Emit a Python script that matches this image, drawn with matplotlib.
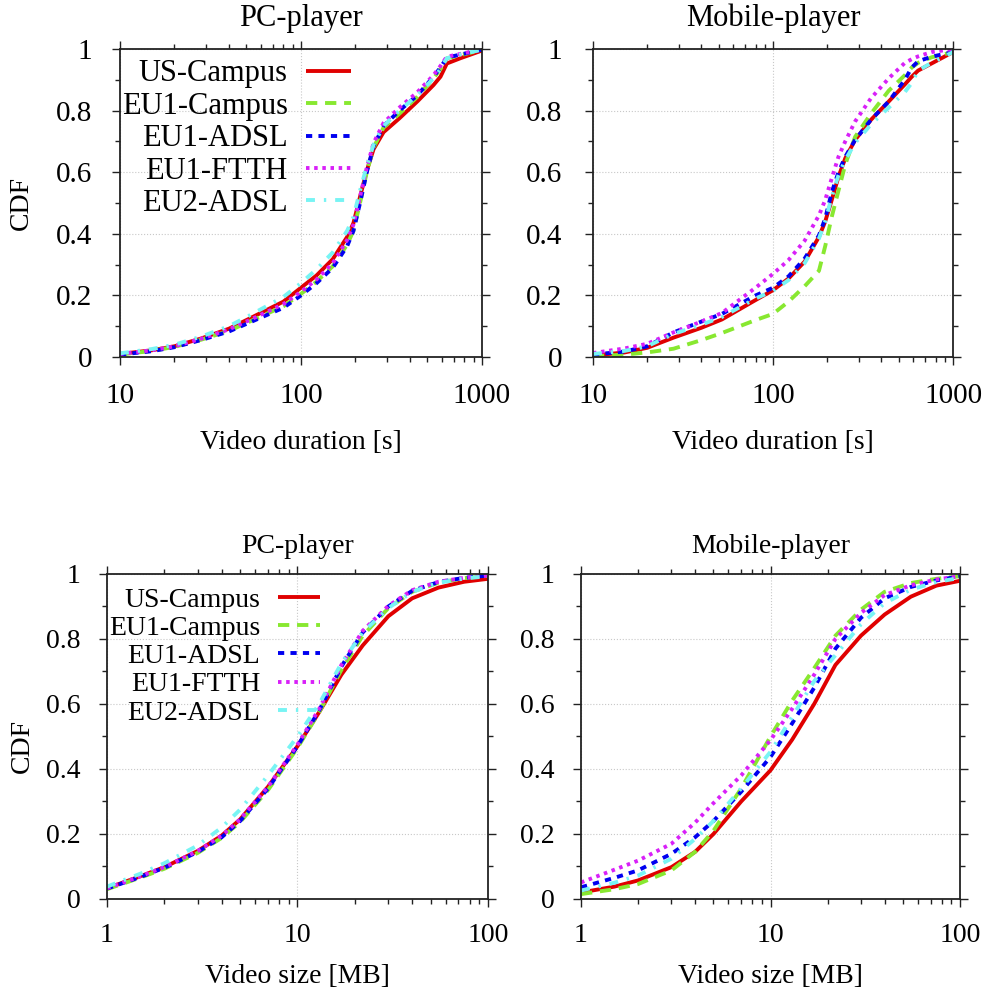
import matplotlib
matplotlib.use("Agg")
import matplotlib.pyplot as plt
from matplotlib.ticker import MultipleLocator, LogLocator, NullFormatter

plt.rcParams['font.family'] = ['Liberation Serif', 'DejaVu Serif']
plt.rcParams['font.size'] = 20

# data
series = ['US-Campus', 'EU1-Campus', 'EU1-ADSL', 'EU1-FTTH', 'EU2-ADSL']

dur_x = [10, 15, 20, 28, 40, 52, 80, 100, 122, 150, 180, 195, 212, 231, 252, 286, 350, 440, 540, 590, 640, 760, 1000]

pc_dur_us = [0.01, 0.022, 0.035, 0.06, 0.092, 0.125, 0.18, 0.225, 0.265, 0.318, 0.39, 0.435, 0.52, 0.605, 0.675, 0.73, 0.775, 0.83, 0.883, 0.91, 0.953, 0.97, 0.995]
pc_dur_eu1c = [0.008, 0.02, 0.033, 0.056, 0.085, 0.115, 0.165, 0.205, 0.245, 0.295, 0.365, 0.41, 0.5, 0.6, 0.68, 0.745, 0.79, 0.845, 0.905, 0.935, 0.97, 0.98, 0.997]
pc_dur_eu1a = [0.008, 0.019, 0.032, 0.055, 0.083, 0.112, 0.16, 0.2, 0.24, 0.29, 0.36, 0.41, 0.5, 0.6, 0.685, 0.75, 0.8, 0.85, 0.91, 0.94, 0.972, 0.982, 0.998]
pc_dur_eu1f = [0.01, 0.022, 0.035, 0.059, 0.09, 0.12, 0.172, 0.212, 0.252, 0.305, 0.38, 0.43, 0.52, 0.615, 0.695, 0.76, 0.81, 0.86, 0.915, 0.945, 0.975, 0.984, 0.998]
pc_dur_eu2a = [0.012, 0.026, 0.04, 0.066, 0.1, 0.135, 0.195, 0.24, 0.285, 0.34, 0.41, 0.455, 0.54, 0.62, 0.69, 0.75, 0.8, 0.85, 0.905, 0.935, 0.97, 0.982, 0.998]

mob_dur_us = [0.005, 0.015, 0.03, 0.063, 0.095, 0.122, 0.185, 0.217, 0.255, 0.31, 0.39, 0.44, 0.51, 0.585, 0.645, 0.705, 0.77, 0.83, 0.885, 0.91, 0.93, 0.953, 0.99]
mob_dur_eu1c = [0.002, 0.008, 0.015, 0.027, 0.055, 0.078, 0.12, 0.14, 0.18, 0.23, 0.28, 0.36, 0.455, 0.54, 0.625, 0.715, 0.79, 0.865, 0.915, 0.94, 0.955, 0.973, 0.99]
mob_dur_eu1a = [0.008, 0.018, 0.035, 0.08, 0.115, 0.14, 0.2, 0.225, 0.262, 0.32, 0.395, 0.45, 0.535, 0.6, 0.65, 0.705, 0.77, 0.83, 0.9, 0.94, 0.96, 0.975, 0.99]
mob_dur_eu1f = [0.013, 0.028, 0.043, 0.08, 0.115, 0.143, 0.225, 0.27, 0.315, 0.378, 0.46, 0.51, 0.58, 0.65, 0.7, 0.765, 0.84, 0.905, 0.955, 0.967, 0.976, 0.99, 1.0]
mob_dur_eu2a = [0.01, 0.02, 0.035, 0.075, 0.105, 0.13, 0.19, 0.215, 0.25, 0.305, 0.385, 0.44, 0.52, 0.59, 0.64, 0.695, 0.755, 0.81, 0.86, 0.89, 0.93, 0.955, 0.99]

size_x = [1, 1.5, 2, 3, 4, 5, 7, 10, 13, 17, 22, 30, 40, 55, 75, 100]

pc_size_us = [0.033, 0.07, 0.098, 0.148, 0.195, 0.245, 0.345, 0.47, 0.575, 0.69, 0.78, 0.87, 0.925, 0.958, 0.976, 0.985]
pc_size_eu1c = [0.03, 0.066, 0.093, 0.142, 0.188, 0.237, 0.335, 0.465, 0.575, 0.705, 0.81, 0.895, 0.945, 0.973, 0.987, 0.994]
pc_size_eu1a = [0.032, 0.068, 0.096, 0.145, 0.19, 0.24, 0.34, 0.47, 0.58, 0.715, 0.82, 0.9, 0.948, 0.975, 0.988, 0.995]
pc_size_eu1f = [0.033, 0.07, 0.098, 0.148, 0.195, 0.245, 0.345, 0.475, 0.585, 0.72, 0.825, 0.902, 0.95, 0.976, 0.988, 0.995]
pc_size_eu2a = [0.038, 0.078, 0.11, 0.165, 0.22, 0.275, 0.38, 0.5, 0.6, 0.725, 0.82, 0.895, 0.945, 0.973, 0.986, 0.993]

mob_size_us = [0.02, 0.038, 0.057, 0.098, 0.145, 0.2, 0.3, 0.396, 0.49, 0.6, 0.72, 0.81, 0.875, 0.93, 0.964, 0.979]
mob_size_eu1c = [0.015, 0.03, 0.046, 0.088, 0.145, 0.21, 0.34, 0.5, 0.61, 0.71, 0.81, 0.89, 0.945, 0.972, 0.985, 0.993]
mob_size_eu1a = [0.036, 0.065, 0.088, 0.139, 0.19, 0.24, 0.33, 0.437, 0.54, 0.65, 0.77, 0.865, 0.925, 0.96, 0.98, 0.993]
mob_size_eu1f = [0.051, 0.09, 0.118, 0.17, 0.235, 0.295, 0.38, 0.489, 0.585, 0.69, 0.8, 0.88, 0.935, 0.965, 0.983, 0.993]
mob_size_eu2a = [0.026, 0.05, 0.072, 0.124, 0.185, 0.24, 0.34, 0.453, 0.56, 0.67, 0.75, 0.845, 0.91, 0.952, 0.975, 0.988]

y_ticks = [0, 0.2, 0.4, 0.6, 0.8, 1]
y_ticklabels = ['0', '0.2', '0.4', '0.6', '0.8', '1']
dur_ticks = [10, 100, 1000]
dur_ticklabels = ['10', '100', '1000']
size_ticks = [1, 10, 100]
size_ticklabels = ['1', '10', '100']

colors = ['#e00000', '#88e830', '#0000f0', '#d820f8', '#78f4f4']
styles = ['-', (0, (2.9, 2.0)), (0, (1.6, 1.6)), (0, (0.9, 1.2)), (0, (2.3, 2.3, 0.6, 2.3))]
lw = 2.8

fig = plt.figure(figsize=(9.89, 9.94), dpi=100)
ax_tl = fig.add_axes([0.1213, 0.6408, 0.366, 0.3099])
ax_tr = fig.add_axes([0.5996, 0.6408, 0.364, 0.3099])
ax_bl = fig.add_axes([0.1082, 0.0956, 0.3852, 0.327])
ax_br = fig.add_axes([0.5875, 0.0956, 0.3832, 0.327])

panels = [
    (ax_tl, dur_x, [pc_dur_us, pc_dur_eu1c, pc_dur_eu1a, pc_dur_eu1f, pc_dur_eu2a], 'PC-player', 'Video duration [s]', dur_ticks, dur_ticklabels),
    (ax_tr, dur_x, [mob_dur_us, mob_dur_eu1c, mob_dur_eu1a, mob_dur_eu1f, mob_dur_eu2a], 'Mobile-player', 'Video duration [s]', dur_ticks, dur_ticklabels),
    (ax_bl, size_x, [pc_size_us, pc_size_eu1c, pc_size_eu1a, pc_size_eu1f, pc_size_eu2a], 'PC-player', 'Video size [MB]', size_ticks, size_ticklabels),
    (ax_br, size_x, [mob_size_us, mob_size_eu1c, mob_size_eu1a, mob_size_eu1f, mob_size_eu2a], 'Mobile-player', 'Video size [MB]', size_ticks, size_ticklabels),
]

for i, (ax, xs, ys, title, xlabel, xt, xtl) in enumerate(panels):
    top = i < 2
    for name, y, c, ls in zip(series, ys, colors, styles):
        ax.plot(xs, y, color=c, linestyle=ls, linewidth=lw, label=name,
                dash_capstyle='butt', solid_capstyle='butt')
    ax.set_xscale('log')
    ax.set_xlim(xt[0], xt[-1])
    ax.set_ylim(0, 1)
    ax.set_xticks(xt)
    ax.set_xticklabels(xtl)
    ax.xaxis.set_minor_locator(LogLocator(base=10, subs=range(2, 10)))
    ax.xaxis.set_minor_formatter(NullFormatter())
    ax.set_yticks(y_ticks)
    ax.set_yticklabels(y_ticklabels)
    ax.yaxis.set_minor_locator(MultipleLocator(0.1))
    ax.grid(True, which='major', color='#c8c8c8', linestyle=':', linewidth=0.8)
    ax.tick_params(which='both', direction='out', top=True, right=True,
                   width=1.0, color='#222222', labelsize=21 if top else 20)
    ax.tick_params(which='major', length=6)
    ax.tick_params(which='minor', length=3.5)
    for sp in ax.spines.values():
        sp.set_linewidth(1.3)
        sp.set_color('#222222')
    ax.tick_params(axis='x', which='major', pad=13 if top else 11)
    ax.tick_params(axis='y', which='major', pad=[14, 16, 13, 13][i])
    ax.set_title(title, y=1.1 if top else 1.083, va='center', pad=0,
                 fontsize=22 if top else 20)
    ax.set_xlabel(xlabel, va='center')
    ax.xaxis.set_label_coords(0.5, -0.279 if top else -0.237)
    if i in (0, 2):
        ax.set_ylabel('CDF', va='center')
        ax.yaxis.set_label_coords(-0.271 if top else -0.223, 0.5 if top else 0.47)
        leg = ax.legend(loc='upper left',
                        bbox_to_anchor=(0.005, 0.966) if top else (0.005, 0.959),
                        frameon=False, markerfirst=False, borderpad=0,
                        borderaxespad=0, fontsize=22 if top else 20,
                        handlelength=1.47 if top else 1.5,
                        handletextpad=0.59 if top else 0.65,
                        labelspacing=0.11 if top else 0.1)
        leg._legend_handle_box.get_children()[0].align = 'right'

fig.savefig('out.png', dpi=100)
